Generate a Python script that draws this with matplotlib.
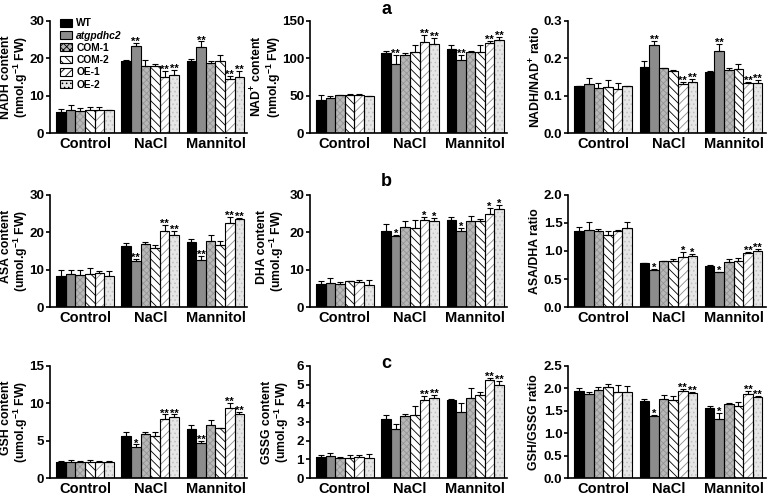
import numpy as np
import matplotlib
matplotlib.use('Agg')
from matplotlib import pyplot as plt
from matplotlib.patches import Patch

plt.rcParams['font.family'] = ['Liberation Sans', 'DejaVu Sans']
plt.rcParams['font.weight'] = 'bold'
plt.rcParams['mathtext.fontset'] = 'custom'
plt.rcParams['mathtext.rm'] = 'Liberation Sans:bold'
plt.rcParams['mathtext.bf'] = 'Liberation Sans:bold'
plt.rcParams['mathtext.default'] = 'bf'
plt.rcParams['hatch.linewidth'] = 0.6

# ---- data ----
treatments = ['Control', 'NaCl', 'Mannitol']
lines = ['WT', 'atgpdhc2', 'COM-1', 'COM-2', 'OE-1', 'OE-2']

# rows = treatments, cols = lines
nadh = [[5.6, 6.2, 6.0, 6.2, 6.1, 6.2],
        [19.3, 23.4, 18.0, 18.0, 15.0, 15.5],
        [19.2, 23.1, 18.8, 19.3, 14.4, 14.9]]
nadh_err = [[0.8, 1.2, 0.8, 0.8, 0.9, 0.05],
            [0.2, 0.8, 1.6, 0.6, 1.6, 1.4],
            [0.5, 1.4, 0.5, 1.5, 0.8, 1.8]]
nadh_sig = [['', '', '', '', '', ''],
            ['', '**', '', '', '**', '**'],
            ['', '**', '', '', '**', '**']]

nad = [[44.5, 46.5, 50.5, 50.5, 51.0, 49.5],
       [107, 93, 104, 108, 122, 119],
       [112, 98, 108, 109, 121, 124]]
nad_err = [[6, 3, 0.5, 1.5, 1, 0.5],
           [3, 11, 3, 10, 9, 8],
           [6, 7, 2, 9, 2, 5]]
nad_sig = nadh_sig

nadh_ratio = [[0.125, 0.132, 0.120, 0.124, 0.118, 0.126],
              [0.178, 0.235, 0.173, 0.165, 0.131, 0.138],
              [0.163, 0.220, 0.168, 0.172, 0.135, 0.135]]
nadh_ratio_err = [[0.001, 0.015, 0.014, 0.018, 0.017, 0.001],
                  [0.015, 0.012, 0.002, 0.005, 0.007, 0.008],
                  [0.002, 0.018, 0.006, 0.012, 0.003, 0.006]]
nadh_ratio_sig = nadh_sig

asa = [[8.3, 8.9, 8.5, 8.9, 9.1, 8.3],
       [16.3, 12.3, 16.9, 15.9, 20.4, 19.2],
       [17.3, 12.7, 17.7, 16.5, 22.6, 23.5]]
asa_err = [[1.5, 0.9, 1.5, 1.6, 0.5, 1.3],
           [0.7, 0.6, 0.6, 0.6, 1.5, 1.2],
           [0.8, 1.0, 1.6, 1.2, 1.5, 0.3]]
asa_sig = nadh_sig

dha = [[6.1, 6.4, 6.2, 6.9, 6.7, 5.9],
       [20.3, 18.9, 21.4, 21.2, 23.3, 23.0],
       [23.4, 20.4, 23.1, 23.1, 25.0, 26.1]]
dha_err = [[0.8, 1.3, 0.5, 0.2, 0.6, 1.3],
           [1.9, 0.3, 1.5, 2.0, 0.9, 0.8],
           [0.8, 0.8, 1.3, 0.4, 1.5, 1.3]]
dha_sig = [['', '', '', '', '', ''],
           ['', '*', '', '', '*', '*'],
           ['', '*', '', '', '*', '*']]

asa_ratio = [[1.35, 1.38, 1.36, 1.29, 1.35, 1.41],
             [0.78, 0.66, 0.82, 0.83, 0.90, 0.91],
             [0.74, 0.62, 0.81, 0.83, 0.96, 1.00]]
asa_ratio_err = [[0.07, 0.14, 0.03, 0.06, 0.03, 0.10],
                 [0.005, 0.02, 0.01, 0.02, 0.08, 0.04],
                 [0.01, 0.01, 0.04, 0.05, 0.02, 0.04]]
asa_ratio_sig = [['', '', '', '', '', ''],
                 ['', '*', '', '', '*', '*'],
                 ['', '*', '', '', '**', '**']]

gsh = [[2.2, 2.2, 2.2, 2.2, 2.2, 2.2],
       [5.6, 4.2, 5.9, 5.6, 7.9, 8.2],
       [6.5, 4.7, 7.1, 6.7, 9.4, 8.6]]
gsh_err = [[0.05, 0.2, 0.05, 0.2, 0.05, 0.15],
           [0.5, 0.3, 0.3, 0.6, 0.6, 0.3],
           [0.6, 0.3, 0.6, 0.05, 0.6, 0.2]]
gsh_sig = [['', '', '', '', '', ''],
           ['', '*', '', '', '**', '**'],
           ['', '**', '', '', '**', '**']]

gssg = [[1.12, 1.2, 1.1, 1.1, 1.15, 1.1],
        [3.15, 2.6, 3.3, 3.35, 4.15, 4.3],
        [4.15, 3.55, 4.3, 4.45, 5.25, 5.0]]
gssg_err = [[0.1, 0.15, 0.03, 0.15, 0.1, 0.2],
            [0.2, 0.3, 0.1, 0.5, 0.25, 0.15],
            [0.1, 0.45, 0.5, 0.15, 0.1, 0.2]]
gssg_sig = [['', '', '', '', '', ''],
            ['', '', '', '', '**', '**'],
            ['', '', '', '', '**', '**']]

gsh_ratio = [[1.93, 1.88, 1.96, 2.02, 1.92, 1.92],
             [1.71, 1.39, 1.77, 1.74, 1.94, 1.89],
             [1.56, 1.31, 1.65, 1.60, 1.87, 1.81]]
gsh_ratio_err = [[0.07, 0.04, 0.07, 0.07, 0.15, 0.12],
                 [0.04, 0.02, 0.09, 0.08, 0.05, 0.03],
                 [0.05, 0.15, 0.02, 0.10, 0.07, 0.02]]
gsh_ratio_sig = [['', '', '', '', '', ''],
                 ['', '*', '', '', '**', '**'],
                 ['', '*', '', '', '**', '**']]

panels = [
    (nadh, nadh_err, nadh_sig, 'NADH content\n(nmol.g$^{-1}$ FW)', [0, 10, 20, 30], '%d'),
    (nad, nad_err, nad_sig, 'NAD$^{+}$ content\n(nmol.g$^{-1}$ FW)', [0, 50, 100, 150], '%d'),
    (nadh_ratio, nadh_ratio_err, nadh_ratio_sig, 'NADH/NAD$^{+}$ ratio', [0, 0.1, 0.2, 0.3], '%.1f'),
    (asa, asa_err, asa_sig, 'ASA content\n(umol.g$^{-1}$ FW)', [0, 10, 20, 30], '%d'),
    (dha, dha_err, dha_sig, 'DHA content\n(umol.g$^{-1}$ FW)', [0, 10, 20, 30], '%d'),
    (asa_ratio, asa_ratio_err, asa_ratio_sig, 'ASA/DHA ratio', [0, 0.5, 1.0, 1.5, 2.0], '%.1f'),
    (gsh, gsh_err, gsh_sig, 'GSH content\n(umol.g$^{-1}$ FW)', [0, 5, 10, 15], '%d'),
    (gssg, gssg_err, gssg_sig, 'GSSG content\n(umol.g$^{-1}$ FW)', [0, 1, 2, 3, 4, 5, 6], '%d'),
    (gsh_ratio, gsh_ratio_err, gsh_ratio_sig, 'GSH/GSSG ratio', [0, 0.5, 1.0, 1.5, 2.0, 2.5], '%.1f'),
]

# bar styles: face, hatch, hatch colour
styles = [('#000000', '', '#000000'),
          ('#8c8c8c', '', '#8c8c8c'),
          ('#b8b8b8', 'xxxxx', '#949494'),
          ('#ffffff', '\\\\\\\\', '#000000'),
          ('#ffffff', '////', '#8a8a8a'),
          ('#e6e6e6', '....', '#c0c0c0')]

fig = plt.figure(figsize=(7.78, 4.97), dpi=100)
lefts = [0.064, 0.398, 0.730]
bottoms = [0.732, 0.382, 0.038]
w = 0.254
h = 0.226
# right edge of each y label, in axes fraction
label_x = [-0.1, -0.135, -0.125,
           -0.1, -0.12, -0.135,
           -0.1, -0.095, -0.14]

x = np.arange(len(treatments))
bw = 0.147
offs = (np.arange(len(lines)) - 2.5) * bw

for i, (vals, errs, sigs, ylab, ticks, fmt) in enumerate(panels):
    r, c = divmod(i, 3)
    ax = fig.add_axes([lefts[c], bottoms[r], w, h])
    vals = np.array(vals)
    errs = np.array(errs)
    for j in range(len(lines)):
        face, hatch, hcol = styles[j]
        ax.bar(x + offs[j], vals[:, j], bw, color=face, hatch=hatch,
               edgecolor=hcol, linewidth=0, zorder=2)
        ax.bar(x + offs[j], vals[:, j], bw, fill=False, edgecolor='black',
               linewidth=0.8, zorder=3)
        ax.errorbar(x + offs[j], vals[:, j],
                    yerr=[np.zeros(len(treatments)), errs[:, j]],
                    fmt='none', ecolor='black', elinewidth=0.8,
                    capsize=2.5, capthick=0.8, zorder=4)
        for k in range(len(treatments)):
            if sigs[k][j]:
                ax.text(x[k] + offs[j], vals[k, j] + errs[k, j] - ticks[-1] * 0.035,
                        sigs[k][j], ha='center', va='bottom', fontsize=8,
                        fontweight='bold', zorder=5)
    ax.set_xlim(-0.54, 2.49)
    ax.set_ylim(0, ticks[-1])
    ax.set_yticks(ticks)
    ax.set_yticklabels([fmt % t for t in ticks], fontsize=9.6, fontweight='bold')
    ax.set_xticks(x)
    ax.set_xticklabels(treatments, fontsize=10.5, fontweight='bold')
    ax.tick_params(axis='x', length=0, pad=3)
    ax.tick_params(axis='y', length=3, width=1.2, pad=1)
    ax.set_ylabel(ylab, fontsize=8.8, fontweight='bold', linespacing=1.0,
                  rotation_mode='default', ha='right', va='center')
    ax.yaxis.set_label_coords(label_x[i], 0.5)
    for s in ['top', 'right']:
        ax.spines[s].set_visible(False)
    for s in ['left', 'bottom']:
        ax.spines[s].set_linewidth(1.2)

    if i == 0:
        handles = []
        for j in range(len(lines)):
            face, hatch, hcol = styles[j]
            handles.append(Patch(facecolor=face, hatch=hatch, edgecolor='black', linewidth=0.8))
        leg = ax.legend(handles, lines, loc='upper left', bbox_to_anchor=(0.03, 1.06),
                        frameon=False, fontsize=7.4, handlelength=1.2, handleheight=0.8,
                        labelspacing=0.22, handletextpad=0.4, borderaxespad=0.2,
                        borderpad=0.2)
        for t in leg.get_texts():
            t.set_fontweight('bold')
        leg.get_texts()[1].set_fontstyle('italic')

fig.text(0.497, 0.998, 'a', fontsize=13, fontweight='bold', ha='center', va='top')
fig.text(0.497, 0.652, 'b', fontsize=13, fontweight='bold', ha='center', va='top')
fig.text(0.497, 0.285, 'c', fontsize=13, fontweight='bold', ha='center', va='top')

fig.savefig('out.png', dpi=100)
